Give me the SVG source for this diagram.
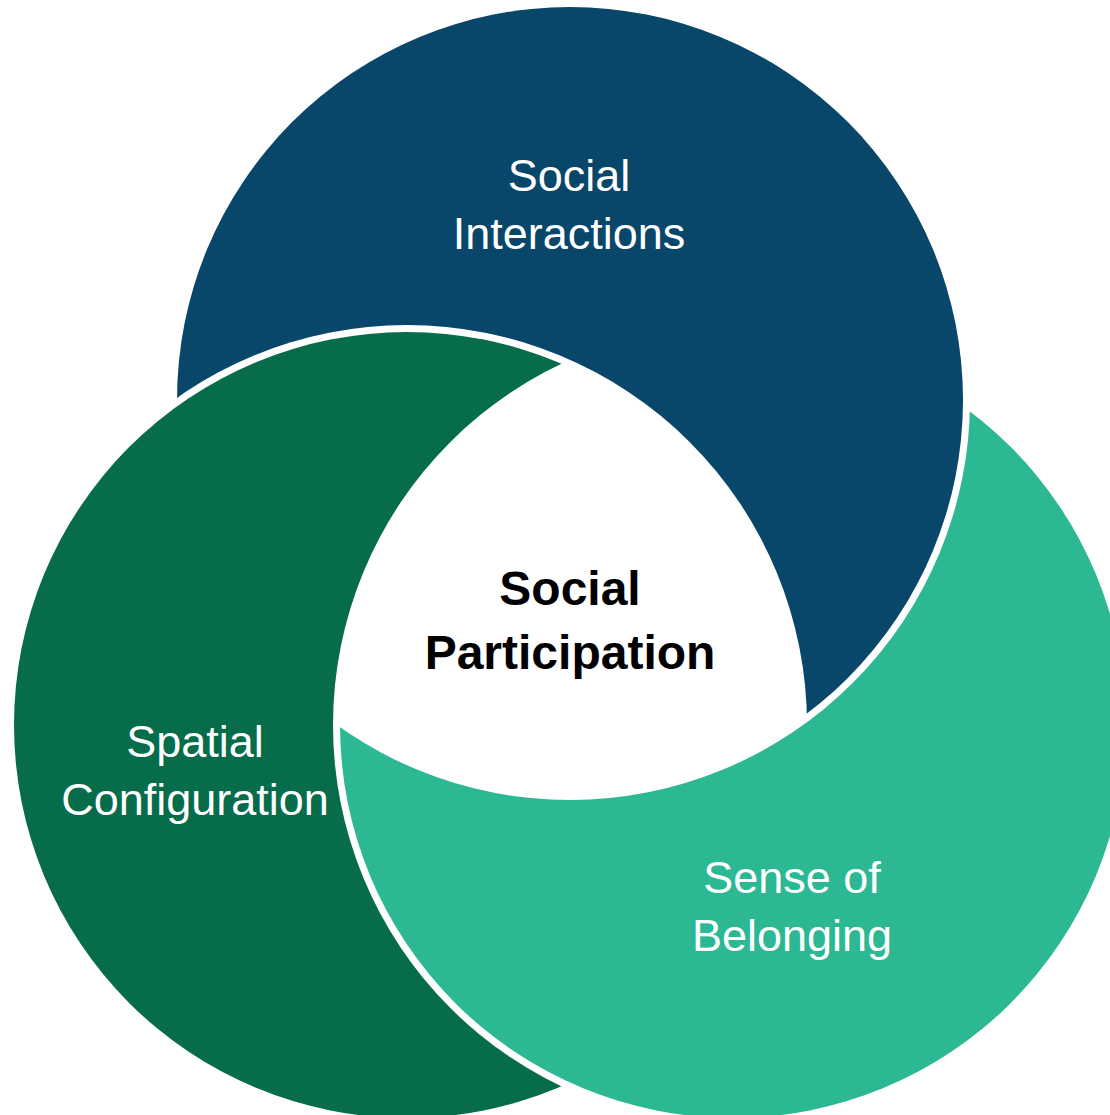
<svg xmlns="http://www.w3.org/2000/svg" width="1110" height="1115" viewBox="0 0 1110 1115">
  <style>
    .label { font-family: "Liberation Sans", Arial, sans-serif; font-size: 45px; fill: #ffffff; text-anchor: middle; }
    .core { font-family: "Liberation Sans", Arial, sans-serif; font-size: 48px; font-weight: bold; fill: #000000; text-anchor: middle; }
  </style>
  <defs>
    <!-- each ring is cut by the next one, widened by a 7px white gap -->
    <mask id="cut-green" maskUnits="userSpaceOnUse" x="0" y="0" width="1110" height="1115">
      <rect width="1110" height="1115" fill="#fff"/>
      <circle cx="407" cy="725" r="400" fill="#000"/>
    </mask>
    <mask id="cut-teal" maskUnits="userSpaceOnUse" x="0" y="0" width="1110" height="1115">
      <rect width="1110" height="1115" fill="#fff"/>
      <circle cx="733" cy="725" r="400" fill="#000"/>
    </mask>
    <mask id="cut-blue" maskUnits="userSpaceOnUse" x="0" y="0" width="1110" height="1115">
      <rect width="1110" height="1115" fill="#fff"/>
      <circle cx="570" cy="400" r="400" fill="#000"/>
    </mask>
  </defs>
  <rect width="1110" height="1115" fill="#ffffff"/>

  <g id="social-interactions">
    <circle cx="570" cy="400" r="393" fill="#08466a" mask="url(#cut-green)"/>
    <text class="label" x="569" y="191">Social</text>
    <text class="label" x="569" y="249">Interactions</text>
  </g>

  <g id="spatial-configuration">
    <circle cx="407" cy="725" r="393" fill="#066c4a" mask="url(#cut-teal)"/>
    <text class="label" x="195" y="757">Spatial</text>
    <text class="label" x="195" y="815">Configuration</text>
  </g>

  <g id="sense-of-belonging">
    <circle cx="733" cy="725" r="393" fill="#2cb892" mask="url(#cut-blue)"/>
    <text class="label" x="792" y="893">Sense of</text>
    <text class="label" x="792" y="951">Belonging</text>
  </g>

  <g id="social-participation">
    <text class="core" x="570" y="605">Social</text>
    <text class="core" x="570" y="669">Participation</text>
  </g>

  <g id="connectors"/>
</svg>
